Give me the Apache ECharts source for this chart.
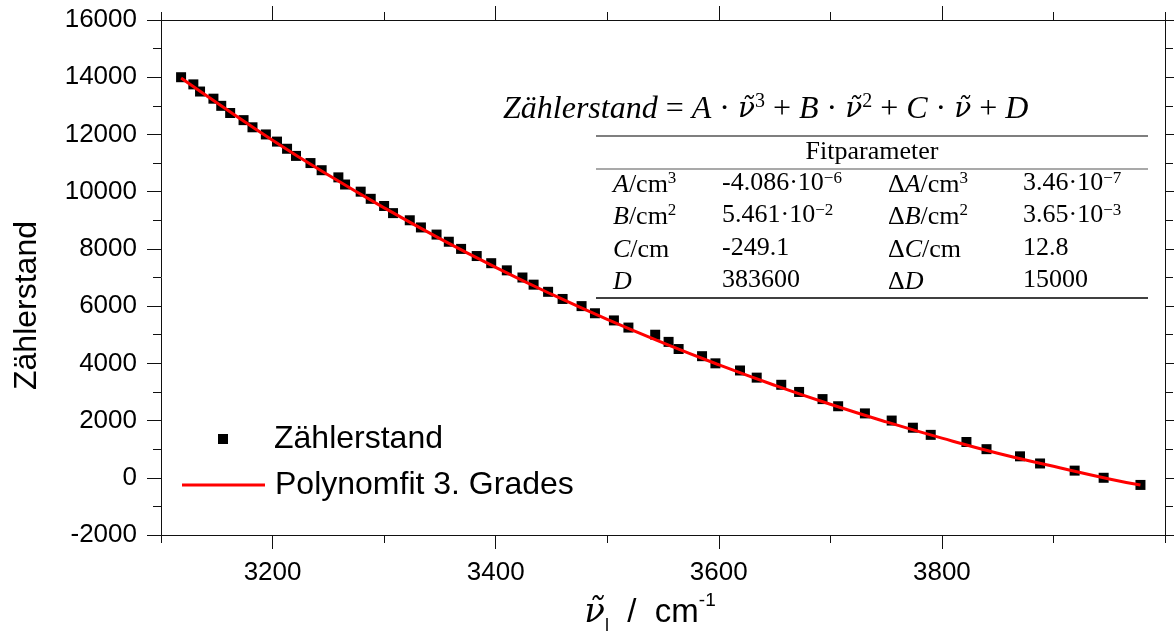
<!DOCTYPE html>
<html><head><meta charset="utf-8">
<script src="https://cdn.jsdelivr.net/npm/echarts@6/dist/echarts.min.js"></script>
<style>html,body{margin:0;padding:0;background:#fff}#c{width:1174px;height:635px}</style>
</head><body><div id="c"></div>
<script>
// Measured data (wavenumber / cm^-1 vs counter reading)
const wavenumbers = [3118,3129,3135,3147,3154,3162,3174,3182,3194,3204,3213,3221,3234,3244,3259,3265,3279,3288,3300,3308,
  3323,3333,3347,3358,3369,3383,3396,3410,3424,3434,3447,3460,3477,3489,3506,3519,3543,3555,3564,3585,
  3597,3619,3634,3656,3672,3693,3707,3731,3755,3774,3790,3822,3840,3870,3888,3919,3945,3978];
const counts = [14000,13750,13500,13250,13000,12750,12500,12250,12000,11750,11500,11250,11000,10750,10500,10250,10000,9750,9500,9250,
  9000,8750,8500,8250,8000,7750,7500,7250,7000,6750,6500,6250,6000,5750,5500,5250,5000,4750,4500,4250,
  4000,3750,3500,3250,3000,2750,2500,2250,2000,1750,1500,1250,1000,750,500,250,0,-250];
// Fit curve
const fitX = [3118,3150,3200,3250,3300,3350,3400,3450,3500,3550,3600,3650,3700,3750,3800,3850,3900,3950,3978];
const fitY = [13975,13110,11800,10580,9435,8360,7355,6415,5535,4715,3950,3235,2570,1955,1385,860,400,-40,-255];
// Axis ticks
const xMajorTicks = [3200,3400,3600,3800];
const xMinorTicks = [3100,3300,3500,3700,3900,4000];
const xRange = [3100,4000];
const yRange = [-2000,16000];
const yStep = 2000;
// Fit parameter table
const tableHeader = 'Fitparameter';
const paramNames = ['{i|A}/cm{sup|3}','{i|B}/cm{sup|2}','{i|C}/cm','{i|D}'];
const paramValues = ['-4.086·10{sup|−6}','5.461·10{sup|−2}','-249.1','383600'];
const errNames = ['Δ{i|A}/cm{sup|3}','Δ{i|B}/cm{sup|2}','Δ{i|C}/cm','Δ{i|D}'];
const errValues = ['3.46·10{sup|−7}','3.65·10{sup|−3}','12.8','15000'];
const seriesNames = ['Zählerstand','Polynomfit 3. Grades'];

const SANS = 'Liberation Sans';
const SERIF = 'Liberation Serif';
const NUFONT = 'DejaVu Serif';
const chart = echarts.init(document.getElementById('c'));
const scatterData = wavenumbers.map((x,i)=>[x,counts[i]]);
const fitData = fitX.map((x,i)=>[x,fitY[i]]);
const axLine = {color:'#111', width:1};
const plain = v => String(v);

function xAx(pos, ticks, len, showLine, labels) {
  return {type:'value', position:pos, min:xRange[0], max:xRange[1], gridIndex:0,
    axisLine:{show:showLine, onZero:false, lineStyle:axLine},
    axisTick:{show:true, customValues:ticks, length:len, lineStyle:axLine},
    axisLabel:{show:!!labels, customValues:ticks, formatter:plain, fontSize:26, fontFamily:SANS, color:'#000', margin:25},
    splitLine:{show:false}};
}
function yAx(pos, labels) {
  return {type:'value', position:pos, min:yRange[0], max:yRange[1], interval:yStep,
    axisLine:{show:true, onZero:false, lineStyle:axLine},
    axisTick:{show:true, length:14, lineStyle:axLine},
    minorTick:{show:true, splitNumber:2, length:8, lineStyle:axLine},
    axisLabel:{show:labels, formatter:plain, fontSize:26, fontFamily:SANS, color:'#000', margin:24},
    splitLine:{show:false}, minorSplitLine:{show:false}};
}

const xMain = xAx('bottom', xMajorTicks, 14, true, true);
xMain.name = '{nu|ν̃}{sub|l}{t|  /  cm}{sup|-1}';
xMain.nameLocation = 'middle';
xMain.nameGap = 50;
xMain.nameTextStyle = {padding:[0,26,0,0], rich:{
  nu:{fontFamily:NUFONT, fontStyle:'italic', fontSize:34, color:'#000', lineHeight:44},
  sub:{fontFamily:SANS, fontSize:18, color:'#000', verticalAlign:'bottom', lineHeight:12},
  t:{fontFamily:SANS, fontSize:33, color:'#000', lineHeight:44},
  sup:{fontFamily:SANS, fontSize:19, color:'#000', verticalAlign:'top', lineHeight:14}
}};
const yMain = yAx('left', true);
yMain.name = 'Zählerstand';
yMain.nameLocation = 'middle';
yMain.nameGap = 118;
yMain.nameTextStyle = {fontSize:32, fontFamily:SANS, color:'#000', padding:[0,56,0,0]};

const graphics = [];
graphics.push({type:'text', left:503, top:92, z:100, style:{
  text:'{it|Zählerstand} = {it|A} · {nu|ν̃}{sup|3} + {it|B} · {nu|ν̃}{sup|2} + {it|C} · {nu|ν̃} + {it|D}',
  font:'32px "'+SERIF+'"', fill:'#000',
  rich:{it:{fontStyle:'italic', fontFamily:SERIF, fontSize:32, fill:'#000', lineHeight:36},
        nu:{fontStyle:'italic', fontFamily:NUFONT, fontSize:28, fill:'#000', lineHeight:36},
        sup:{fontFamily:SERIF, fontSize:20, fill:'#000', verticalAlign:'top', lineHeight:18}}
}});
const ruleX1 = 596, ruleX2 = 1148;
[[136,1.5,'#555'],[169,1.2,'#555'],[298,1.5,'#000']].forEach(r=>{
  graphics.push({type:'line', z:100, shape:{x1:ruleX1,y1:r[0],x2:ruleX2,y2:r[0]}, style:{stroke:r[2], lineWidth:r[1]}});
});
graphics.push({type:'text', z:100, x:(ruleX1+ruleX2)/2, y:152, style:{text:tableHeader, font:'26px "'+SERIF+'"', fill:'#000', align:'center', verticalAlign:'middle'}});
const cellRich = {i:{fontStyle:'italic', fontFamily:SERIF, fontSize:26, fill:'#000', lineHeight:30},
  sup:{fontFamily:SERIF, fontSize:17, fill:'#000', verticalAlign:'top', lineHeight:14}};
const colX = [613,722,888,1023];
const rowY = [170,202,235,267];
[paramNames,paramValues,errNames,errValues].forEach((col,ci)=>{
  col.forEach((txt,ri)=>{
    graphics.push({type:'text', z:100, x:colX[ci], y:rowY[ri], style:{text:txt, font:'26px "'+SERIF+'"', fill:'#000', rich:cellRich}});
  });
});

chart.setOption({
  animation:false,
  backgroundColor:'#fff',
  grid:{left:161, right:9, top:20, bottom:100, containLabel:false, outerBoundsMode:'none'},
  xAxis:[xMain, xAx('bottom', xMinorTicks, 8, false, false), xAx('top', xMajorTicks, 14, true, false), xAx('top', xMinorTicks, 8, false, false)],
  yAxis:[yMain, yAx('right', false)],
  legend:[
    {data:[seriesNames[0]], left:213, top:418, icon:'rect', itemWidth:10, itemHeight:10, selectedMode:false,
     itemStyle:{opacity:1},
     textStyle:{fontSize:32, fontFamily:SANS, color:'#000', padding:[0,0,0,41]}},
    {data:[seriesNames[1]], left:177, top:464, icon:'rect', itemWidth:83, itemHeight:3, selectedMode:false,
     textStyle:{fontSize:32, fontFamily:SANS, color:'#000', padding:[0,0,0,5]}}
  ],
  series:[
    {name:seriesNames[0], type:'scatter', data:scatterData, symbol:'rect', symbolSize:10,
     itemStyle:{color:'#000', opacity:1}, xAxisIndex:0, yAxisIndex:0, z:2},
    {name:seriesNames[1], type:'line', data:fitData, smooth:true, symbol:'none', showSymbol:false,
     lineStyle:{color:'#ff0000', width:3}, itemStyle:{color:'#ff0000'}, xAxisIndex:0, yAxisIndex:0, z:3}
  ],
  graphic:graphics
});
</script></body></html>
